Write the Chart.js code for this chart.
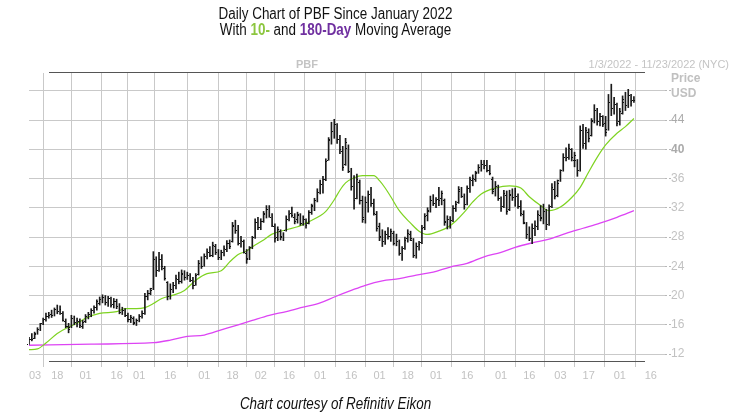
<!DOCTYPE html>
<html>
<head>
<meta charset="utf-8">
<script src="https://cdn.jsdelivr.net/npm/chart.js@4.4.0/dist/chart.umd.min.js"></script>
<style>
  html,body{margin:0;padding:0;background:#fff;}
  #wrap{position:relative;width:730px;height:417px;overflow:hidden;}
  canvas{position:absolute;left:0;top:0;}
  .t{position:absolute;left:0;width:671px;text-align:center;font-family:"Liberation Sans",Arial,sans-serif;font-size:16px;line-height:16px;color:#111;white-space:nowrap;transform:scaleX(0.84);transform-origin:335.5px 0;}
  .g{position:absolute;font-family:"Liberation Sans",Arial,sans-serif;font-size:11px;line-height:12px;color:#c4c4c4;white-space:nowrap;}
</style>
</head>
<body>
<div id="wrap">
  <canvas id="c" width="730" height="417"></canvas>
  <div class="t" style="top:6px">Daily Chart of PBF Since January 2022</div>
  <div class="t" style="top:22px">With <b style="color:#8cc63f">10-</b> and <b style="color:#7030a0">180-Day</b> Moving Average</div>
  <div class="g" style="left:296px;top:58px;font-weight:bold;">PBF</div>
  <div class="g" style="right:1px;top:58px;">1/3/2022 - 11/23/2022 (NYC)</div>
  <div class="t" style="top:396px;font-style:italic;">Chart courtesy of Refinitiv Eikon</div>
</div>
<script>
// x axis: trading-day index (0 = Jan 3, 2022); tick positions and labels
const tickIdx = [0,10,20,31,39,50,62,72,82,92,103,114,124,134,144,155,167,177,188,198,209,220];
const tickLabels = ['03','18','01','16','01','16','01','18','02','16','01','16','01','18','01','16','01','16','03','17','01','16'];
const priceTicks = [12,16,20,24,28,32,36,40,44,48];

// daily OHLC (USD)
const open = [
13.4,14.1,14.2,14.9,15.4,16.2,16.8,17.2,17.5,17.4,18.2,17.9,17.6,16.5,15.8,15.7,16.9,16.4,16.5,15.8,
16.5,17.2,17.5,18.0,18.4,19.0,19.5,19.8,19.1,19.6,18.8,19.3,18.5,17.8,18.0,17.4,16.8,16.9,16.3,
16.6,17.2,17.6,20.0,20.4,21.0,25.0,23.5,25.0,23.8,21.8,20.0,20.9,21.5,22.3,22.0,23.0,22.6,22.8,22.1,21.5,22.9,24.4,
24.1,25.4,26.0,25.6,26.8,25.9,25.3,25.9,26.4,27.2,27.5,29.5,28.9,27.2,27.4,25.8,25.1,26.6,28.0,30.0,
29.4,30.2,31.3,31.8,30.8,29.5,28.0,28.8,28.2,29.0,30.5,31.3,30.8,30.4,31.0,29.9,30.4,29.9,31.4,32.4,33.1,
34.2,35.3,36.0,38.6,41.4,42.5,43.4,41.4,39.8,38.0,40.2,37.0,35.0,33.4,35.5,33.0,30.8,32.8,33.9,32.7,31.2,
29.5,28.1,27.5,28.4,28.2,28.6,27.2,27.5,25.8,26.5,27.8,28.4,27.6,25.6,26.8,27.3,29.4,31.0,31.7,33.0,
32.6,33.2,33.3,33.0,30.2,30.4,30.3,32.0,32.8,34.3,33.6,32.5,34.7,35.8,36.0,36.9,37.6,38.0,37.8,37.1,36.0,34.5,35.0,
33.3,32.2,33.8,31.8,33.8,33.5,33.6,32.3,31.2,29.9,28.4,27.8,29.3,29.5,31.0,30.8,31.5,29.8,32.2,34.6,33.8,
35.8,37.2,39.0,39.0,40.0,38.6,38.5,37.2,42.6,40.8,42.4,42.0,44.0,45.4,43.8,44.5,43.6,42.8,46.5,45.6,46.2,
43.8,45.0,46.5,46.0,47.4,46.7
];
const high = [
14.3,14.8,15.0,15.6,16.2,16.9,17.6,17.7,18.0,18.3,18.7,18.6,17.8,16.8,16.2,17.3,17.2,16.9,16.8,16.6,
17.4,17.7,18.2,18.6,19.4,19.8,20.1,20.0,19.9,19.8,19.6,19.5,18.9,18.4,18.2,17.6,17.3,17.1,16.8,
17.4,17.9,20.3,20.7,21.0,26.0,25.3,25.9,25.6,24.0,21.9,21.6,21.8,22.8,23.2,23.5,23.4,23.2,23.0,22.5,23.0,24.8,25.3,
25.7,26.4,26.7,27.3,27.0,26.3,26.2,26.8,27.5,27.6,30.0,30.3,29.6,28.1,27.6,26.3,26.7,28.1,30.5,30.7,
30.5,31.5,32.3,32.3,31.2,29.8,29.4,29.0,28.6,30.9,31.6,32.1,31.2,31.4,31.2,30.9,30.5,31.6,32.5,33.3,34.6,
35.8,36.3,38.7,41.6,43.7,44.1,43.5,41.9,40.4,41.5,40.6,37.4,36.4,36.6,35.8,33.6,33.5,34.3,34.8,33.2,31.5,
29.9,29.0,28.8,29.3,29.1,28.8,28.4,27.6,26.7,28.0,29.0,28.8,27.8,27.2,27.4,29.6,31.2,32.0,33.6,33.8,
33.4,34.8,34.3,33.2,30.9,30.8,32.3,32.9,34.9,34.8,33.9,35.0,36.2,36.5,37.0,37.9,38.5,38.5,38.5,37.8,36.2,35.6,35.1,
33.5,34.4,34.3,34.4,34.6,34.7,33.9,33.0,31.6,30.0,29.4,29.8,30.2,31.6,32.3,32.5,31.8,32.4,35.3,35.6,35.8,
37.2,39.4,40.2,40.7,40.1,39.6,38.6,43.2,43.4,43.0,42.8,44.2,46.1,45.6,44.9,44.6,44.5,47.5,48.9,47.1,46.3,
45.6,47.3,47.8,48.2,47.5,47.2
];
const low = [
13.3,13.8,14.1,14.7,15.2,16.0,16.5,16.9,17.0,17.2,17.5,17.4,16.5,15.6,14.9,15.6,16.0,15.7,15.6,15.5,
16.3,16.8,17.1,17.6,18.0,18.7,19.0,18.7,18.5,18.4,18.3,18.2,17.5,17.4,17.1,16.4,16.3,16.0,15.9,
16.4,16.9,17.4,19.4,20.1,20.8,22.6,23.3,23.5,22.1,19.4,19.5,20.4,20.9,21.6,21.7,22.1,22.2,21.9,20.9,21.4,22.8,23.7,
24.0,25.0,25.3,25.3,25.6,24.9,24.9,25.4,26.0,26.4,27.3,28.5,26.9,26.6,25.8,24.4,24.9,26.4,27.8,29.0,
29.0,30.0,30.6,30.7,29.4,27.3,27.5,27.6,27.5,28.8,30.2,30.7,29.8,29.9,29.6,29.6,29.2,29.8,31.1,31.6,32.8,
33.9,34.0,35.7,38.5,40.7,41.5,40.8,39.4,37.1,37.8,36.8,34.4,31.8,33.2,32.5,30.0,29.9,31.4,32.2,31.0,28.8,
27.5,26.7,27.0,27.7,27.4,26.9,26.8,25.5,24.8,26.3,27.3,27.5,25.2,25.1,26.2,27.1,29.0,30.2,31.4,32.3,
32.0,32.3,32.4,29.6,29.1,29.2,30.1,31.5,32.6,33.4,31.8,32.4,34.1,35.0,35.6,36.7,37.0,37.3,36.9,36.5,33.9,33.6,33.0,
31.5,32.0,31.1,31.6,33.0,32.2,31.9,30.9,29.8,27.8,27.5,27.1,28.2,29.0,30.2,29.8,29.0,29.6,32.0,33.2,33.5,
35.6,37.0,38.4,38.6,38.4,37.6,36.3,37.0,40.1,40.0,41.0,41.8,43.6,43.3,43.2,43.1,41.8,42.6,44.6,44.8,43.2,
43.3,44.8,45.3,45.7,45.9,46.4
];
const close = [
14.1,14.0,14.8,15.3,16.0,16.6,17.2,17.4,17.3,18.1,17.8,18.2,16.7,15.9,15.4,17.0,16.3,16.6,16.0,16.4,
17.2,17.5,18.0,18.4,19.2,19.5,19.8,19.0,19.7,18.7,19.3,18.5,17.9,18.1,17.3,16.8,17.0,16.4,16.6,
17.2,17.6,19.9,20.4,20.8,25.2,23.2,25.0,24.0,22.4,19.9,21.0,21.5,22.4,22.0,23.1,22.6,22.9,22.2,21.4,22.8,24.5,24.0,
25.4,26.1,25.6,26.9,25.9,25.2,25.9,26.5,27.2,26.8,29.6,29.0,27.3,27.6,26.0,25.0,26.5,27.8,30.1,29.4,
30.2,31.2,31.9,31.0,29.7,27.8,29.1,28.0,28.4,30.6,31.2,31.0,30.2,31.1,29.9,30.6,29.6,31.4,32.2,33.0,34.3,
35.4,35.9,38.4,41.2,42.3,43.5,41.4,40.0,37.6,41.0,37.2,34.8,33.0,36.0,33.0,30.5,32.9,33.8,32.6,31.3,29.3,
28.0,27.2,28.5,28.1,28.8,27.2,27.8,25.8,26.4,27.6,28.6,27.9,25.8,26.9,27.0,29.3,30.9,31.6,33.2,32.7,
33.1,33.0,34.0,30.1,30.5,29.8,32.0,32.5,34.5,33.7,32.2,34.8,35.9,36.1,36.8,37.5,38.2,37.7,37.2,36.8,34.3,35.2,33.4,
32.0,34.0,31.6,33.9,33.4,34.3,32.2,31.3,30.1,28.2,27.9,29.4,29.7,31.2,30.6,32.1,29.5,32.1,34.9,33.6,35.4,
36.9,39.0,38.8,40.2,38.9,39.2,36.8,42.8,40.6,42.6,41.5,43.9,45.6,44.0,44.6,43.5,42.4,46.8,45.4,46.5,43.6,
45.2,46.9,45.8,47.6,46.6,46.8
];

// moving averages: [trading-day index, value]
const ma10 = [
[0,12.6],[3,12.7],[6,13.5],[10,14.8],[14,15.7],[17,16.2],[20,16.9],[25,17.55],[31,17.8],[34,18.2],[38,18.2],
[41,18.35],[44,18.9],[47,19.6],[51,20.05],[55,20.7],[59,22.1],[63,23.0],[68,23.4],[71,24.6],[74,25.6],[77,26.1],
[80,26.9],[83,27.6],[86,28.4],[91,29.0],[95,29.4],[99,30.1],[103,30.9],[105,31.5],[108,33.1],[110,34.4],
[112,35.4],[115,36.1],[118,36.4],[122,36.4],[124,35.7],[126,34.7],[128,33.5],[131,31.6],[135,29.9],
[138,28.8],[141,28.35],[145,28.8],[148,29.3],[151,30.2],[154,31.4],[157,32.8],[160,33.9],[165,34.7],
[170,35.0],[174,34.7],[177,33.5],[181,32.3],[184,31.6],[188,32.1],[192,33.4],[195,34.8],[198,36.9],
[201,38.9],[204,40.6],[208,42.2],[211,43.1],[214,44.2]
];
const ma180 = [
[0,13.2],[22,13.35],[44,13.55],[50,13.9],[56,14.4],[62,14.6],[68,15.3],[74,16.0],[79,16.6],[85,17.3],
[91,17.8],[97,18.4],[103,19.0],[108,19.8],[114,20.7],[119,21.4],[125,22.0],[131,22.3],[137,22.8],
[143,23.2],[149,23.9],[155,24.4],[161,25.3],[167,25.9],[172,26.6],[178,27.2],[184,27.7],[190,28.5],
[196,29.2],[202,29.9],[208,30.7],[214,31.6]
];

const barData = high.map((h, i) => ({x: i, y: [low[i], h]}));

const ohlcTicks = {
  id: 'ohlcTicks',
  afterDatasetsDraw(chart) {
    const ctx = chart.ctx, ys = chart.scales.y;
    const meta = chart.getDatasetMeta(0);
    ctx.save();
    ctx.fillStyle = '#111';
    meta.data.forEach((el, i) => {
      const x0 = Math.floor(el.x - 0.5);
      const yo = Math.round(ys.getPixelForValue(open[i]));
      const yc = Math.round(ys.getPixelForValue(close[i]));
      ctx.fillRect(x0 - 1, yo, 1, 1);
      ctx.fillRect(x0 + 1, yc, 1, 1);
    });
    ctx.restore();
  }
};

const frame = {
  id: 'frame',
  afterDraw(chart) {
    const ctx = chart.ctx, a = chart.chartArea;
    ctx.save();
    ctx.strokeStyle = '#555';
    ctx.lineWidth = 1;
    ctx.beginPath();
    ctx.moveTo(49, a.top - 0.5); ctx.lineTo(645, a.top - 0.5);
    ctx.moveTo(49, a.bottom - 0.5); ctx.lineTo(645, a.bottom - 0.5);
    ctx.stroke();
    ctx.fillStyle = '#c0c0c0';
    ctx.font = 'bold 12px "Liberation Sans", Arial, sans-serif';
    ctx.textBaseline = 'middle';
    ctx.textAlign = 'left';
    ctx.fillText('Price', a.right + 6, 79);
    ctx.fillText('USD', a.right + 6, 94);
    ctx.restore();
  }
};

new Chart(document.getElementById('c'), {
  type: 'bar',
  data: {
    datasets: [
      {type: 'bar', data: barData, backgroundColor: '#1a1a1a', barThickness: 1, borderWidth: 0, grouped: false},
      {type: 'line', data: ma10.map(p => ({x: p[0], y: p[1]})), borderColor: '#7ed321', borderWidth: 1.2,
       pointRadius: 0, cubicInterpolationMode: 'monotone', fill: false},
      {type: 'line', data: ma180.map(p => ({x: p[0], y: p[1]})), borderColor: '#dd44f4', borderWidth: 1.3,
       pointRadius: 0, cubicInterpolationMode: 'monotone', fill: false}
    ]
  },
  options: {
    responsive: false,
    animation: false,
    devicePixelRatio: 1,
    layout: {padding: {left: 29, top: 73, right: 0, bottom: 0}},
    plugins: {legend: {display: false}, tooltip: {enabled: false}, title: {display: false}},
    scales: {
      x: {
        type: 'linear', min: 0, max: 225, offset: false,
        afterBuildTicks(s) { s.ticks = tickIdx.map(v => ({value: v})); },
        afterFit(s) { s.height = 55; },
        border: {display: false},
        grid: {color: '#c9c9c9', lineWidth: 1, tickLength: 5, tickColor: '#c9c9c9'},
        ticks: {
          autoSkip: false, maxRotation: 0, padding: 2, color: '#c2c2c2',
          font: {family: '"Liberation Sans", Arial, sans-serif', size: 11},
          callback(v) { const k = tickIdx.indexOf(v); return k === 0 ? '    ' + tickLabels[k] : (k >= 0 ? tickLabels[k] : ''); }
        }
      },
      y: {
        type: 'linear', position: 'right', min: 10.91, max: 50.43,
        afterBuildTicks(s) { s.ticks = priceTicks.map(v => ({value: v})); },
        afterFit(s) { s.width = 65; },
        border: {display: false},
        grid: {color: '#c9c9c9', lineWidth: 1, tickLength: 6, tickColor: '#b8b8b8', tickBorderDash: [2, 2]},
        ticks: {
          padding: 0, color: (c) => (c.tick && (c.tick.value === 40 || c.tick.value === 44)) ? '#aaaaaa' : '#c2c2c2',
          font: (c) => ({family: '"Liberation Sans", Arial, sans-serif', size: 12,
                 weight: (c.tick && (c.tick.value === 40)) ? 'bold' : 'normal'}),
          callback(v) { return v === 48 ? '' : String(v); }
        }
      }
    }
  },
  plugins: [ohlcTicks, frame]
});
</script>
</body>
</html>
